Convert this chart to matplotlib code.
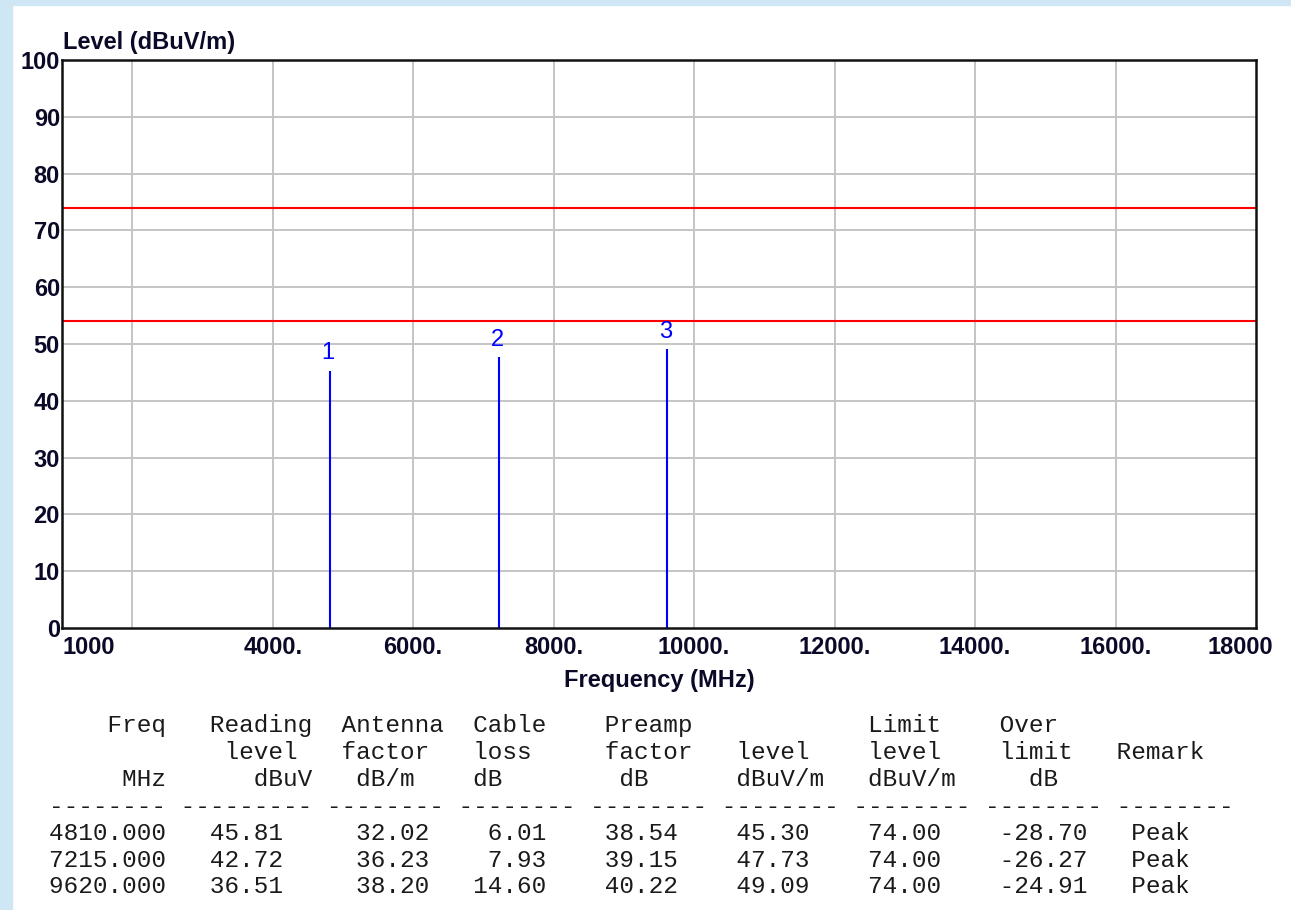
import matplotlib
matplotlib.use("Agg")
import matplotlib.pyplot as plt
from matplotlib.patches import Rectangle
from matplotlib.transforms import ScaledTranslation

# measured peaks
freq = [4810.000, 7215.000, 9620.000]
reading = [45.81, 42.72, 36.51]
antenna = [32.02, 36.23, 38.20]
cable = [6.01, 7.93, 14.60]
preamp = [38.54, 39.15, 40.22]
level = [45.30, 47.73, 49.09]
limit = [74.00, 74.00, 74.00]
over = [-28.70, -26.27, -24.91]
remark = ["Peak", "Peak", "Peak"]
marker_ids = ["1", "2", "3"]

# limit lines (peak / average)
limit_lines = [74, 54]

xticks = [1000, 4000, 6000, 8000, 10000, 12000, 14000, 16000, 18000]
xtick_labels = ["1000", "4000.", "6000.", "8000.", "10000.", "12000.",
                "14000.", "16000.", "18000"]
xgrid = [2000, 4000, 6000, 8000, 10000, 12000, 14000, 16000]
yticks = list(range(0, 101, 10))

W, H = 1291, 910
fig = plt.figure(figsize=(W / 100, H / 100), dpi=100, facecolor="white")

# light blue window border
fig.patches.append(Rectangle((0, 0), 12 / W, 1, transform=fig.transFigure,
                             color="#cfe6f5", zorder=0))
fig.patches.append(Rectangle((0, 1 - 5 / H), 1, 5 / H, transform=fig.transFigure,
                             color="#cfe6f5", zorder=0))

ax = fig.add_axes([62 / W, 1 - 628 / H, (1256 - 62) / W, (628 - 60) / H])
ax.set_xlim(1000, 18000)
ax.set_ylim(0, 100)

# grid
for g in xgrid:
    ax.axvline(g, color="#c4c4c4", lw=1.4, zorder=1)
for g in yticks[1:-1]:
    ax.axhline(g, color="#c4c4c4", lw=1.4, zorder=1)

# limits
for lv in limit_lines:
    ax.axhline(lv, color="#ff0000", lw=1.5, zorder=3)

# peak markers
ax.vlines(freq, 0, level, color="#0000ff", lw=1.5, zorder=4)
for f, lv, m in zip(freq, level, marker_ids):
    ax.annotate(m, xy=(f, lv), xytext=(-1, 4.5), textcoords="offset points",
                ha="center", va="bottom", color="#0000ff", fontsize=17,
                family="Liberation Sans")

for s in ax.spines.values():
    s.set_linewidth(1.8)
    s.set_color("#111111")
    s.set_zorder(5)

tick_color = "#0a0a28"
ax.set_xticks(xticks)
ax.set_xticklabels(xtick_labels)
ax.set_yticks(yticks)
ax.tick_params(length=0, labelsize=17, labelcolor=tick_color)
ax.tick_params(axis="x", pad=6)
ax.tick_params(axis="y", pad=1.5)
for lab in ax.get_xticklabels() + ax.get_yticklabels():
    lab.set_fontfamily("Liberation Sans")
    lab.set_fontweight("bold")
xl = ax.get_xticklabels()
xl[0].set_horizontalalignment("left")
xl[-1].set_horizontalalignment("right")
xl[-1].set_transform(xl[-1].get_transform() + ScaledTranslation(0.17, 0, fig.dpi_scale_trans))

ax.set_xlabel("Frequency (MHz)", fontsize=17, fontweight="bold",
              family="Liberation Sans", color=tick_color, labelpad=7)
ax.annotate("Level (dBuV/m)", xy=(0, 1), xycoords="axes fraction",
            xytext=(1, 4), textcoords="offset points", ha="left", va="bottom",
            fontsize=17, fontweight="bold", family="Liberation Sans",
            color=tick_color)


# fixed-width table below the chart
def put(cells, width=90):
    line = [" "] * width
    for col, txt in cells:
        for i, ch in enumerate(txt):
            line[col + i] = ch
    return "".join(line).rstrip()


header = [
    [(4, "Freq"), (11, "Reading"), (20, "Antenna"), (29, "Cable"),
     (38, "Preamp"), (56, "Limit"), (65, "Over")],
    [(12, "level"), (20, "factor"), (29, "loss"), (38, "factor"),
     (47, "level"), (56, "level"), (65, "limit"), (73, "Remark")],
    [(5, "MHz"), (14, "dBuV"), (21, "dB/m"), (29, "dB"), (39, "dB"),
     (47, "dBuV/m"), (56, "dBuV/m"), (67, "dB")],
    [(0, "-" * 8), (9, "-" * 9)] + [(c, "-" * 8) for c in (19, 28, 37, 46, 55, 64, 73)],
]
lines = [put(h) for h in header]
for i in range(len(freq)):
    lines.append(put([
        (0, f"{freq[i]:8.3f}"), (11, f"{reading[i]:.2f}"), (21, f"{antenna[i]:.2f}"),
        (29, f"{cable[i]:5.2f}"), (38, f"{preamp[i]:.2f}"), (47, f"{level[i]:.2f}"),
        (56, f"{limit[i]:.2f}"), (65, f"{over[i]:.2f}"), (74, remark[i]),
    ]))

line_y = [723, 750, 777, 804, 831, 858, 884]
for txt, y in zip(lines, line_y):
    fig.text(49 / W, 1 - y / H, txt, ha="left", va="center_baseline",
             family="Liberation Mono", fontsize=17.6, color="#1a1a1a")

fig.savefig("out.png", dpi=100, facecolor="white")
